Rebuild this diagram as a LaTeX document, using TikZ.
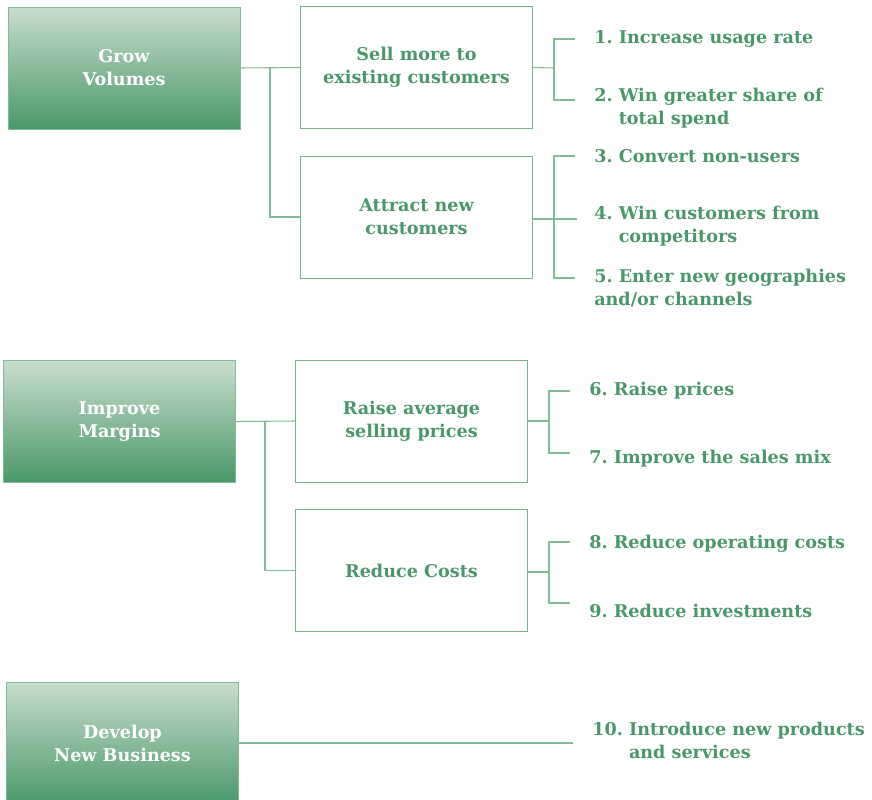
\documentclass[tikz,border=0pt]{standalone}
\usepackage{fontspec}
\setmainfont{DejaVu Serif}
\usetikzlibrary{positioning}
\frenchspacing

\definecolor{leaf}{HTML}{4A986A}
\definecolor{pale}{HTML}{C9DDCC}
\definecolor{twig}{HTML}{82BB97}

\tikzset{
  every node/.style={font=\fontsize{13.2}{17.25}\selectfont\bfseries},
  goal/.style={draw=twig, top color=pale, bottom color=leaf, text=white,
    minimum width=174pt, minimum height=91.5pt, align=center},
  lever/.style={draw=twig!80!leaf, fill=white, text=leaf,
    minimum width=174pt, minimum height=91.5pt, align=center},
  item/.style={anchor=west, text=leaf, align=left, inner xsep=14.25pt, inner ysep=0pt},
  wire/.style={draw=twig, line width=0.8pt}
}

\begin{document}
\begin{tikzpicture}[x=0.75pt, y=-0.75pt]
  \useasboundingbox (0,0) rectangle (872,800);

  % three goals on the left
  \node[goal] (GV) at (124,68) {Grow\\Volumes};
  \node[goal] (IM) at (119.5,421.5) {Improve\\Margins};
  \node[goal] (DN) at (122.5,743) {Develop\\New Business};

  % levers
  \node[lever] (SM) at (416.5,67.5) {Sell more to\\existing customers};
  \node[lever] (AN) at (416.5,217) {Attract new\\customers};
  \node[lever] (RP) at (411.5,421) {Raise average\\selling prices};
  \node[lever] (RC) at (411.5,570.5) {Reduce Costs};

  % actions
  \node[item] (i1) at (575,39) {1. Increase usage rate};
  \node[item] (i2) at (575,108.5) {2. Win greater share of\\\phantom{2. }total spend};
  \node[item] (i3) at (575,156) {3. Convert non-users};
  \node[item] (i4) at (575,226.5) {4. Win customers from\\\phantom{4. }competitors};
  \node[item] (i5) at (575,288.5) {5. Enter new geographies\\and/or channels};
  \node[item] (i6) at (570,391) {6. Raise prices};
  \node[item] (i7) at (570,459) {7. Improve the sales mix};
  \node[item] (i8) at (570,544) {8. Reduce operating costs};
  \node[item] (i9) at (570,611) {9. Reduce investments};
  \node[item] (i10) at (573,740.5) {10. Introduce new products\\\phantom{10. }and services};

  % joints and tick ends
  \coordinate (j1) at (270,68);
  \coordinate (j2) at (265,421);
  \coordinate (b1) at (554,68);
  \coordinate (b2) at (554,219);
  \coordinate (b3) at (549,421);
  \coordinate (b4) at (549,572);
  \coordinate (e2) at (575,100);
  \coordinate (e4) at (577,219);
  \coordinate (e5) at (575,278);
  \coordinate (e7) at (570,453);
  \coordinate (e9) at (570,603);

  \draw[wire] (GV.east) -- (SM.west);
  \draw[wire] (j1) |- (AN.west);
  \draw[wire] (IM.east) -- (RP.west);
  \draw[wire] (j2) |- (RC.west);
  \draw[wire] (DN.east) -- (i10.west |- DN.east);

  \draw[wire] (SM.east) -- (b1);
  \draw[wire] (i1.west) -| (b1) |- (e2);
  \draw[wire] (AN.east |- b2) -- (e4);
  \draw[wire] (i3.west) -| (b2) |- (e5);
  \draw[wire] (RP.east) -- (b3);
  \draw[wire] (i6.west) -| (b3) |- (e7);
  \draw[wire] (RC.east |- b4) -- (b4);
  \draw[wire] (i8.west) ++(0,-2) -| (b4) |- (e9);
\end{tikzpicture}
\end{document}
